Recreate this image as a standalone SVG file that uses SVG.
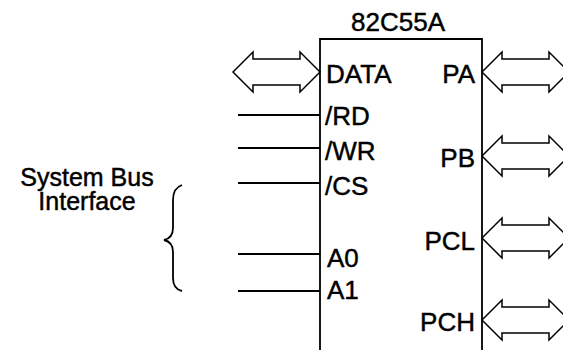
<svg xmlns="http://www.w3.org/2000/svg" xmlns:xlink="http://www.w3.org/1999/xlink" width="563" height="350" viewBox="0 0 563 350">
  <style>
    text { font-family: "Liberation Sans", Arial, sans-serif; font-size: 26px; fill: #000; stroke: #000; stroke-width: 0.45; }
    .end { text-anchor: end; }
    .mid { text-anchor: middle; }
    .label { font-size: 25px; }
    .wire { stroke: #000; stroke-width: 1.8; fill: none; }
    .bus { fill: #fff; stroke: #000; stroke-width: 1.5; stroke-linejoin: miter; }
  </style>
  <defs>
    <!-- double-headed bus arrow, left tip at origin -->
    <path id="busArrow" class="bus" d="M0,0 L20,-20 L20,-13 L67,-13 L67,-20 L87,0 L67,20 L67,13 L20,13 L20,20 Z"/>
  </defs>
  <rect width="563" height="350" fill="#fff"/>

  <g id="chip">
    <path class="wire" d="M320,350 L320,39 L482,39 L482,350"/>
    <text class="mid" x="398" y="31">82C55A</text>
    <text x="326" y="83">DATA</text>
    <text x="325" y="125">/RD</text>
    <text x="325" y="160">/WR</text>
    <text x="325" y="195">/CS</text>
    <text x="327" y="267">A0</text>
    <text x="327" y="299">A1</text>
    <text class="end" x="475" y="83">PA</text>
    <text class="end" x="475" y="167">PB</text>
    <text class="end" x="475" y="250">PCL</text>
    <text class="end" x="475" y="331">PCH</text>
  </g>

  <g id="system-bus">
    <text class="mid label" x="87" y="186">System Bus</text>
    <text class="mid label" x="87" y="210">Interface</text>
    <path class="wire" stroke-width="2" d="M182,185 Q173,188 173,200 L173,228 Q173,238 164,240 Q173,242 173,252 L173,278 Q173,289 182,291"/>
  </g>

  <g id="connectors">
    <use xlink:href="#busArrow" transform="translate(233,72)"/>
    <use xlink:href="#busArrow" transform="translate(482,72)"/>
    <use xlink:href="#busArrow" transform="translate(482,156)"/>
    <use xlink:href="#busArrow" transform="translate(482,238)"/>
    <use xlink:href="#busArrow" transform="translate(482,320)"/>
    <line class="wire" x1="238" y1="115" x2="320" y2="115"/>
    <line class="wire" x1="238" y1="148" x2="320" y2="148"/>
    <line class="wire" x1="238" y1="183" x2="320" y2="183"/>
    <line class="wire" x1="238" y1="254" x2="320" y2="254"/>
    <line class="wire" x1="238" y1="291" x2="320" y2="291"/>
  </g>
</svg>
